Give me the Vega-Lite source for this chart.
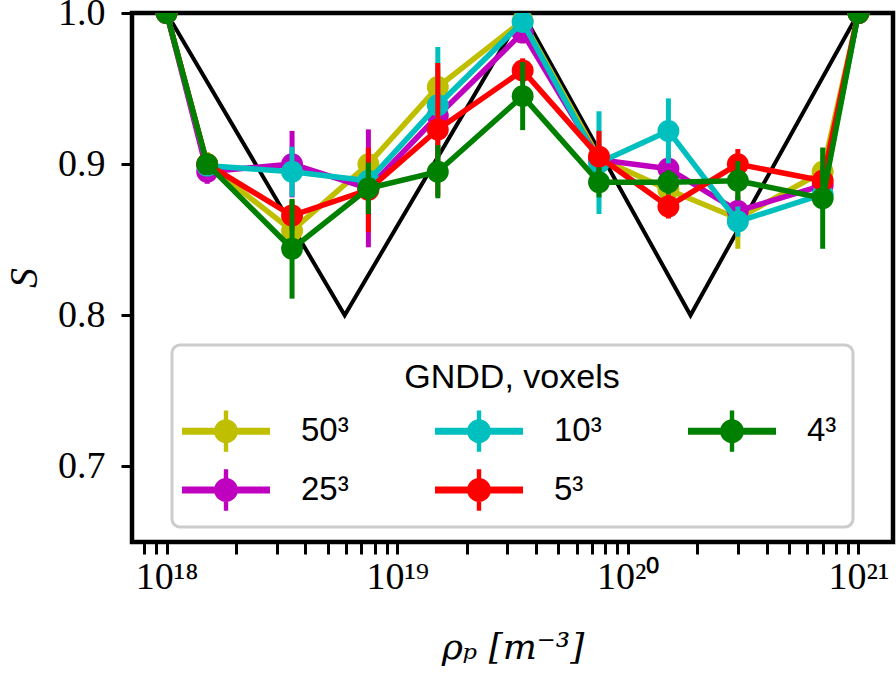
{
  "$schema": "https://vega.github.io/schema/vega-lite/v6.json",
  "width": 761,
  "height": 529,
  "autosize": {"type": "none"},
  "padding": {"left": 132, "top": 13, "right": 3, "bottom": 131},
  "background": "white",
  "config": {
    "view": {"stroke": "black", "strokeWidth": 4.5},
    "axis": {"grid": false, "domain": false, "tickColor": "black", "labelColor": "black", "titleColor": "black"}
  },
  "datasets": {
    "ideal": [
      {"x": 1e18, "S": 1.0},
      {"x": 5.92e18, "S": 0.8},
      {"x": 3.5e19, "S": 1.0},
      {"x": 1.87e20, "S": 0.8},
      {"x": 1e21, "S": 1.0}
    ],
    "gndd": [
      {"series": "50³", "x": 1e18, "S": 1.0, "err": 0},
      {"series": "50³", "x": 1.5e18, "S": 0.900, "err": 0.008},
      {"series": "50³", "x": 3.5e18, "S": 0.856, "err": 0.012},
      {"series": "50³", "x": 7.5e18, "S": 0.900, "err": 0.01},
      {"series": "50³", "x": 1.5e19, "S": 0.951, "err": 0.012},
      {"series": "50³", "x": 3.5e19, "S": 0.995, "err": 0.004},
      {"series": "50³", "x": 7.5e19, "S": 0.904, "err": 0.01},
      {"series": "50³", "x": 1.5e20, "S": 0.883, "err": 0.01},
      {"series": "50³", "x": 3e20, "S": 0.864, "err": 0.02},
      {"series": "50³", "x": 7e20, "S": 0.895, "err": 0.01},
      {"series": "50³", "x": 1e21, "S": 1.0, "err": 0},

      {"series": "25³", "x": 1e18, "S": 1.0, "err": 0},
      {"series": "25³", "x": 1.5e18, "S": 0.895, "err": 0.008},
      {"series": "25³", "x": 3.5e18, "S": 0.900, "err": 0.022},
      {"series": "25³", "x": 7.5e18, "S": 0.884, "err": 0.039},
      {"series": "25³", "x": 1.5e19, "S": 0.932, "err": 0.015},
      {"series": "25³", "x": 3.5e19, "S": 0.987, "err": 0.005},
      {"series": "25³", "x": 7.5e19, "S": 0.903, "err": 0.01},
      {"series": "25³", "x": 1.5e20, "S": 0.897, "err": 0.01},
      {"series": "25³", "x": 3e20, "S": 0.869, "err": 0.01},
      {"series": "25³", "x": 7e20, "S": 0.886, "err": 0.01},
      {"series": "25³", "x": 1e21, "S": 1.0, "err": 0},

      {"series": "10³", "x": 1e18, "S": 1.0, "err": 0},
      {"series": "10³", "x": 1.5e18, "S": 0.899, "err": 0.005},
      {"series": "10³", "x": 3.5e18, "S": 0.895, "err": 0.0165},
      {"series": "10³", "x": 7.5e18, "S": 0.889, "err": 0.01},
      {"series": "10³", "x": 1.5e19, "S": 0.939, "err": 0.0385},
      {"series": "10³", "x": 3.5e19, "S": 0.994, "err": 0.005},
      {"series": "10³", "x": 7.5e19, "S": 0.901, "err": 0.034},
      {"series": "10³", "x": 1.5e20, "S": 0.922, "err": 0.0215},
      {"series": "10³", "x": 3e20, "S": 0.862, "err": 0.01},
      {"series": "10³", "x": 7e20, "S": 0.880, "err": 0.01},
      {"series": "10³", "x": 1e21, "S": 1.0, "err": 0},

      {"series": "5³", "x": 1e18, "S": 1.0, "err": 0},
      {"series": "5³", "x": 1.5e18, "S": 0.900, "err": 0.005},
      {"series": "5³", "x": 3.5e18, "S": 0.866, "err": 0.01},
      {"series": "5³", "x": 7.5e18, "S": 0.883, "err": 0.028},
      {"series": "5³", "x": 1.5e19, "S": 0.923, "err": 0.044},
      {"series": "5³", "x": 3.5e19, "S": 0.962, "err": 0.008},
      {"series": "5³", "x": 7.5e19, "S": 0.905, "err": 0.017},
      {"series": "5³", "x": 1.5e20, "S": 0.872, "err": 0.008},
      {"series": "5³", "x": 3e20, "S": 0.900, "err": 0.01},
      {"series": "5³", "x": 7e20, "S": 0.889, "err": 0.01},
      {"series": "5³", "x": 1e21, "S": 1.0, "err": 0},

      {"series": "4³", "x": 1e18, "S": 1.0, "err": 0},
      {"series": "4³", "x": 1.5e18, "S": 0.900, "err": 0.005},
      {"series": "4³", "x": 3.5e18, "S": 0.844, "err": 0.033},
      {"series": "4³", "x": 7.5e18, "S": 0.884, "err": 0.017},
      {"series": "4³", "x": 1.5e19, "S": 0.895, "err": 0.0176},
      {"series": "4³", "x": 3.5e19, "S": 0.945, "err": 0.0225},
      {"series": "4³", "x": 7.5e19, "S": 0.888, "err": 0.01},
      {"series": "4³", "x": 1.5e20, "S": 0.888, "err": 0.008},
      {"series": "4³", "x": 3e20, "S": 0.889, "err": 0.013},
      {"series": "4³", "x": 7e20, "S": 0.8775, "err": 0.0335},
      {"series": "4³", "x": 1e21, "S": 1.0, "err": 0}
    ]
  },
  "data": {"name": "gndd"},
  "encoding": {
    "x": {
      "field": "x", "type": "quantitative",
      "scale": {"type": "log", "domain": [7.0795e17, 1.4125e21], "nice": false},
      "axis": {
        "values": [8e17, 9e17, 1e18, 2e18, 3e18, 4e18, 5e18, 6e18, 7e18, 8e18, 9e18, 1e19, 2e19, 3e19, 4e19, 5e19, 6e19, 7e19, 8e19, 9e19, 1e20, 2e20, 3e20, 4e20, 5e20, 6e20, 7e20, 8e20, 9e20, 1e21],
        "labelExpr": "datum.value==1e18?'10¹⁸':datum.value==1e19?'10¹⁹':datum.value==1e20?'10²⁰':datum.value==1e21?'10²¹':''",
        "tickSize": 12,
        "tickWidth": 3,
        "encode": {
          "ticks": {"update": {"y2": {"signal": "(datum.value==1e18||datum.value==1e19||datum.value==1e20||datum.value==1e21)?12:7"}}}
        },
        "labelFont": "Liberation Serif", "labelFontSize": 38, "labelPadding": 4,
        "labelOverlap": false, "labelFlush": false,
        "title": "ρₚ  [m⁻³]", "titleFont": "DejaVu Serif", "titleFontStyle": "italic",
        "titleFontSize": 36, "titleFontWeight": "normal", "titlePadding": 34
      }
    },
    "y": {
      "field": "S", "type": "quantitative",
      "scale": {"domain": [0.65, 1.0], "nice": false, "zero": false},
      "axis": {
        "values": [0.7, 0.8, 0.9, 1.0], "format": ".1f",
        "tickSize": 11, "tickWidth": 3,
        "labelFont": "Liberation Serif", "labelFontSize": 38, "labelPadding": 16, "labelFlush": false,
        "title": "S", "titleFont": "Liberation Serif", "titleFontStyle": "italic",
        "titleFontSize": 40, "titleFontWeight": "normal", "titlePadding": 13
      }
    },
    "color": {
      "field": "series", "type": "nominal",
      "scale": {"domain": ["50³", "25³", "10³", "5³", "4³"], "range": ["#bfbf00", "#bf00bf", "#00bfbf", "#ff0000", "#008000"]},
      "legend": {
        "orient": "none", "legendX": 40, "legendY": 332,
        "title": "GNDD, voxels", "titleFont": "Liberation Sans", "titleFontSize": 34, "titleFontWeight": "normal",
        "titleAnchor": "middle", "titleAlign": "center", "titlePadding": -2, "titleColor": "black", "titleLimit": 600,
        "columns": 3, "columnPadding": 85, "rowPadding": 0,
        "symbolType": "M-1.158,-0.092H1.158V0.092H-1.158Z M-0.058,-0.545H0.058V0.545H-0.058Z M0.313,0A0.313,0.313 0 1,1 -0.313,0A0.313,0.313 0 1,1 0.313,0Z",
        "symbolSize": 5776, "symbolStrokeWidth": 0,
        "labelFont": "Liberation Sans", "labelFontSize": 33, "labelOffset": 37, "labelColor": "black", "labelLimit": 300,
        "padding": 16, "fillColor": "white", "strokeColor": "#cccccc", "cornerRadius": 8,
        "encode": {
          "legend": {"update": {"strokeWidth": {"value": 3}}},
          "symbols": {"update": {"fill": {"scale": "color", "field": "value"}, "opacity": {"value": 1}, "strokeWidth": {"value": 0}}}
        }
      }
    }
  },
  "layer": [
    {
      "data": {"name": "ideal"},
      "mark": {"type": "line", "color": "black", "strokeWidth": 4, "clip": true},
      "encoding": {"color": {"value": "black"}}
    },
    {
      "transform": [{"filter": "datum.series === '50³'"}],
      "layer": [
        {"mark": {"type": "line", "strokeWidth": 5.5, "clip": true}},
        {"mark": {"type": "errorbar", "thickness": 5}, "encoding": {"yError": {"field": "err"}}},
        {"mark": {"type": "point", "filled": true, "size": 480, "opacity": 1, "clip": true}}
      ]
    },
    {
      "transform": [{"filter": "datum.series === '25³'"}],
      "layer": [
        {"mark": {"type": "line", "strokeWidth": 5.5, "clip": true}},
        {"mark": {"type": "errorbar", "thickness": 5}, "encoding": {"yError": {"field": "err"}}},
        {"mark": {"type": "point", "filled": true, "size": 480, "opacity": 1, "clip": true}}
      ]
    },
    {
      "transform": [{"filter": "datum.series === '10³'"}],
      "layer": [
        {"mark": {"type": "line", "strokeWidth": 5.5, "clip": true}},
        {"mark": {"type": "errorbar", "thickness": 5}, "encoding": {"yError": {"field": "err"}}},
        {"mark": {"type": "point", "filled": true, "size": 480, "opacity": 1, "clip": true}}
      ]
    },
    {
      "transform": [{"filter": "datum.series === '5³'"}],
      "layer": [
        {"mark": {"type": "line", "strokeWidth": 5.5, "clip": true}},
        {"mark": {"type": "errorbar", "thickness": 5}, "encoding": {"yError": {"field": "err"}}},
        {"mark": {"type": "point", "filled": true, "size": 480, "opacity": 1, "clip": true}}
      ]
    },
    {
      "transform": [{"filter": "datum.series === '4³'"}],
      "layer": [
        {"mark": {"type": "line", "strokeWidth": 5.5, "clip": true}},
        {"mark": {"type": "errorbar", "thickness": 5}, "encoding": {"yError": {"field": "err"}}},
        {"mark": {"type": "point", "filled": true, "size": 480, "opacity": 1, "clip": true}}
      ]
    }
  ]
}
